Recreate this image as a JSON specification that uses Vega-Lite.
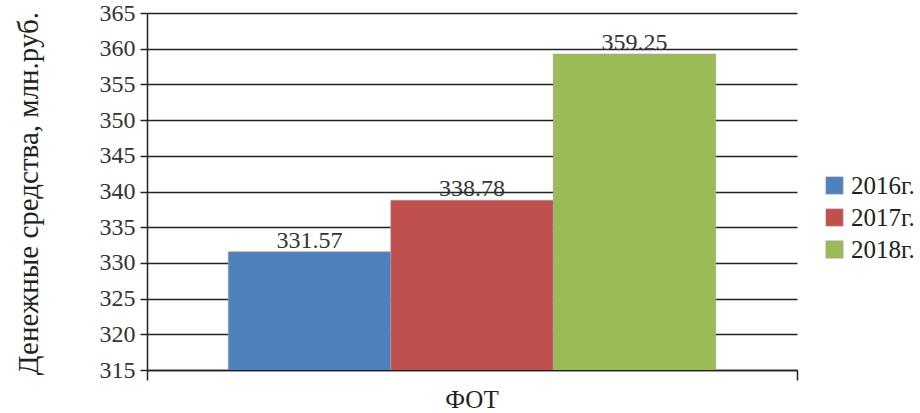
{
  "$schema": "https://vega.github.io/schema/vega-lite/v6.json",
  "width": 650,
  "height": 357,
  "autosize": {"type": "none"},
  "padding": {"left": 147, "top": 13, "right": 123, "bottom": 43},
  "background": "white",
  "data": {"values": [
    {"cat": "ФОТ", "year": "2016г.", "value": 331.57},
    {"cat": "ФОТ", "year": "2017г.", "value": 338.78},
    {"cat": "ФОТ", "year": "2018г.", "value": 359.25}
  ]},
  "config": {
    "font": "Liberation Serif, Times New Roman, serif",
    "view": {"stroke": null}
  },
  "encoding": {
    "x": {"field": "cat", "type": "nominal", "scale": {"paddingInner": 0, "paddingOuter": 0}},
    "xOffset": {"field": "year", "type": "nominal", "scale": {"paddingInner": 0, "paddingOuter": 0.5}},
    "y": {
      "field": "value", "type": "quantitative",
      "scale": {"domain": [315, 365], "nice": false, "zero": false},
      "axis": {
        "title": "Денежные средства, млн.руб.",
        "titleFont": "Liberation Serif, Times New Roman, serif", "titleFontSize": 29, "titleFontWeight": "normal", "titleColor": "#222",
        "titleAngle": -90, "titleX": -119, "titleY": 180, "titleAlign": "center", "titleBaseline": "middle",
        "values": [315, 320, 325, 330, 335, 340, 345, 350, 355, 360, 365],
        "labelFont": "Liberation Serif, Times New Roman, serif", "labelFontSize": 24, "labelColor": "#333",
        "labelPadding": 5, "tickSize": 7, "tickColor": "#222", "tickWidth": 1.5,
        "domainColor": "#222", "domainWidth": 1.5,
        "grid": true, "gridColor": "#222", "gridWidth": 1.5
      }
    }
  },
  "layer": [
    {
      "mark": {"type": "bar", "stroke": "#a0a0a0", "strokeWidth": 0.6, "clip": true},
      "encoding": {
        "x": {"field": "cat", "type": "nominal", "scale": {"paddingInner": 0, "paddingOuter": 0},
          "axis": {"title": null, "labelAngle": 0, "labelFont": "Liberation Serif, Times New Roman, serif", "labelFontSize": 25, "labelColor": "#222",
            "labelPadding": 7, "bandPosition": 0, "tickSize": 10, "tickColor": "#222", "tickWidth": 1.5,
            "domainColor": "#222", "domainWidth": 1.5, "grid": false}},
        "color": {
          "field": "year", "type": "nominal",
          "scale": {"domain": ["2016г.", "2017г.", "2018г."], "range": ["#4F81BD", "#C0504D", "#9BBB59"]},
          "legend": {
            "title": null, "orient": "none", "legendX": 675, "legendY": 160,
            "symbolType": "square", "symbolSize": 300, "symbolStrokeColor": "#aaa", "symbolStrokeWidth": 0.6,
            "labelFont": "Liberation Serif, Times New Roman, serif", "labelFontSize": 25, "labelColor": "#222",
            "rowPadding": 6, "labelOffset": 4
          }
        }
      }
    },
    {
      "mark": {"type": "text", "baseline": "alphabetic", "fontSize": 24, "font": "Liberation Serif, Times New Roman, serif", "color": "#333", "dy": -4},
      "encoding": {
        "x": {"field": "cat", "type": "nominal", "scale": {"paddingInner": 0, "paddingOuter": 0},
          "axis": {"orient": "bottom", "title": null, "labels": false, "domain": false, "bandPosition": 1,
            "tickSize": 10, "tickColor": "#222", "tickWidth": 1.5, "grid": false}},
        "text": {"field": "value", "type": "quantitative", "format": ".2f"}
      }
    }
  ],
  "resolve": {"axis": {"x": "independent"}}
}
